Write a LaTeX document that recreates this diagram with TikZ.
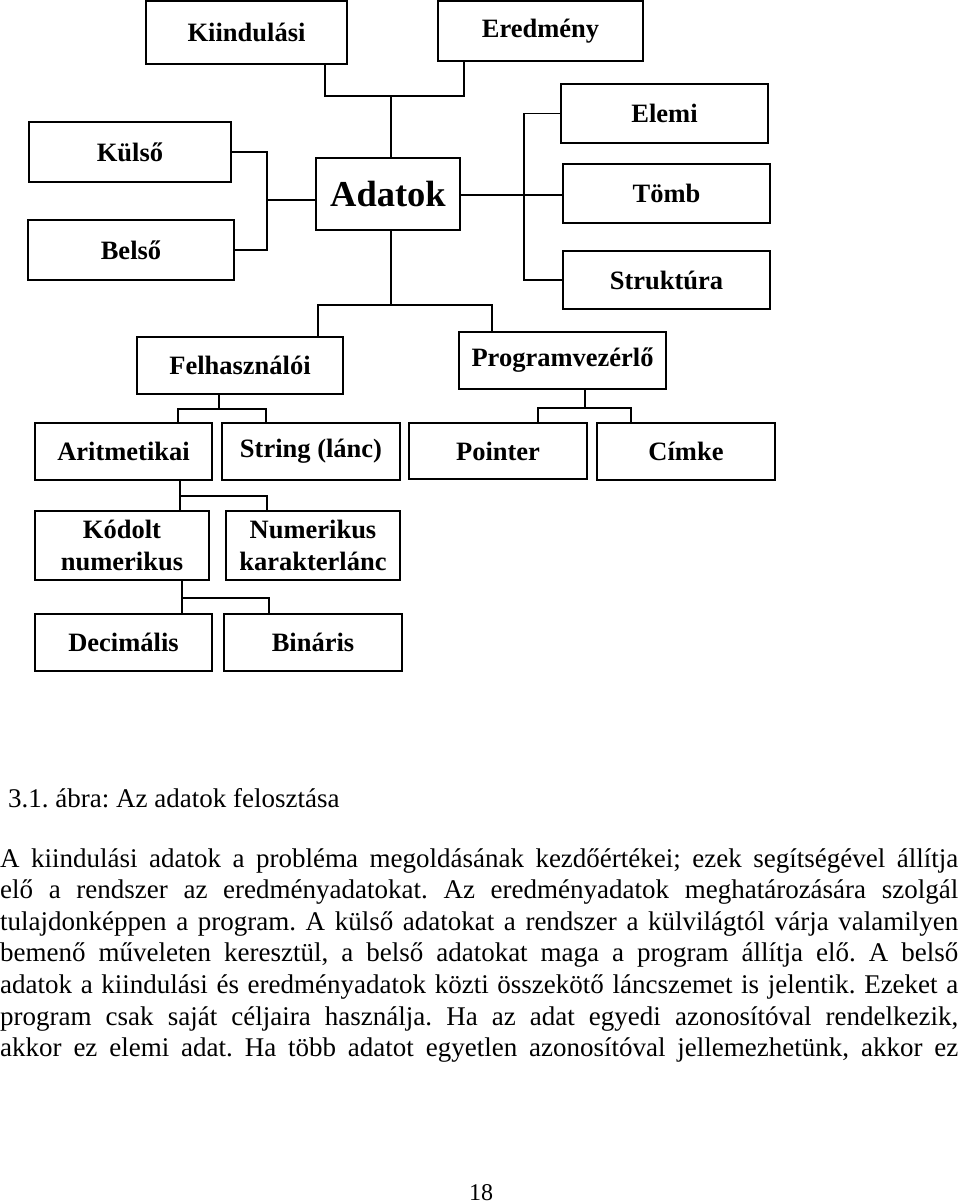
\documentclass[tikz,border=0pt]{standalone}
\usepackage{fontspec}
\setmainfont{Liberation Serif}
\begin{document}
\frenchspacing
\begin{tikzpicture}[x=1pt,y=-1pt,
  box/.style={draw, line width=1.6pt, inner sep=0pt, align=center,
    font=\fontsize{26.5}{32}\selectfont\bfseries},
  conn/.style={line width=1.3pt},
  bodyline/.style={anchor=base west, inner sep=0pt, font=\fontsize{27}{32}\selectfont}]
\useasboundingbox (0,0) rectangle (960,1204);
% boxes
\node[box, minimum width=201pt, minimum height=63pt] (kiind) at (246.5,32.5) {Kiindulási};
\node[box, minimum width=205pt, minimum height=60pt] (ered) at (540.5,31) {Eredmény};
\node[box, minimum width=202pt, minimum height=60pt] (kulso) at (130,152) {Külső};
\node[box, minimum width=206pt, minimum height=60pt] (belso) at (131,250) {Belső};
\node[box, minimum width=144pt, minimum height=72pt, font=\fontsize{36.5}{40}\selectfont\bfseries] (adatok) at (388,194) {Adatok};
\node[box, minimum width=207pt, minimum height=59pt] (elemi) at (664.5,113.5) {Elemi};
\node[box, minimum width=207pt, minimum height=59pt] (tomb) at (666.5,193.5) {Tömb};
\node[box, minimum width=207pt, minimum height=58pt] (strukt) at (666.5,280) {Struktúra};
\node[box, minimum width=206pt, minimum height=57pt] (felh) at (240,365.5) {Felhasználói};
\node[box, minimum width=207pt, minimum height=57pt] (progv) at (562.5,360.5) {Programvezérlő};
\node[box, minimum width=177pt, minimum height=57pt] (arit) at (123.5,451.5) {Aritmetikai};
\node[box, minimum width=178pt, minimum height=57pt] (string) at (311,451.5) {String (lánc)};
\node[box, minimum width=178pt, minimum height=56pt] (pointer) at (498,451) {Pointer};
\node[box, minimum width=178pt, minimum height=57pt] (cimke) at (686,451.5) {Címke};
\node[box, minimum width=174pt, minimum height=69pt] (kodolt) at (122,545.5) {Kódolt\\numerikus};
\node[box, minimum width=174pt, minimum height=69pt] (numkar) at (313,545.5) {Numerikus\\karakterlánc};
\node[box, minimum width=177pt, minimum height=57pt] (decim) at (123.5,642.5) {Decimális};
\node[box, minimum width=178pt, minimum height=57pt] (binar) at (313,642.5) {Bináris};
% junction coordinates
\coordinate (kb) at (325,96);
\coordinate (eb) at (464,96);
\coordinate (ab) at (391,96);
\coordinate (lb) at (267,200);
\coordinate (rb) at (524,195);
\coordinate (db) at (391,305);
\coordinate (fl) at (318,305);
\coordinate (pr) at (492,305);
\coordinate (fb) at (219,409);
\coordinate (fa) at (178,409);
\coordinate (fs) at (266,409);
\coordinate (pb) at (585,408);
\coordinate (pp) at (538,408);
\coordinate (pc) at (631,408);
\coordinate (ak) at (180,496);
\coordinate (an) at (267,496);
\coordinate (kd) at (182,598);
\coordinate (kn) at (269,598);
% connectors
\draw[conn] (kiind.south -| kb) -- (kb) -- (eb) -- (ered.south -| eb);
\draw[conn] (ab) -- (adatok.north -| ab);
\draw[conn] (kulso.east) -| (belso.east -| lb) -- (belso.east);
\draw[conn] (lb) -- (adatok.west |- lb);
\draw[conn] (adatok.east |- rb) -- (tomb.west |- rb);
\draw[conn] (elemi.west) -| (rb) |- (strukt.west);
\draw[conn] (adatok.south -| db) -- (db);
\draw[conn] (felh.north -| fl) -- (fl) -- (pr) -- (progv.north -| pr);
\draw[conn] (felh.south -| fb) -- (fb);
\draw[conn] (arit.north -| fa) -- (fa) -- (fs) -- (string.north -| fs);
\draw[conn] (progv.south -| pb) -- (pb);
\draw[conn] (pointer.north -| pp) -- (pp) -- (pc) -- (cimke.north -| pc);
\draw[conn] (arit.south -| ak) -- (kodolt.north -| ak);
\draw[conn] (ak) -- (an) -- (numkar.north -| an);
\draw[conn] (kodolt.south -| kd) -- (decim.north -| kd);
\draw[conn] (kd) -- (kn) -- (binar.north -| kn);
% caption and body text
\node[bodyline] (cap) at (8,807) {3.1. ábra: Az adatok felosztása};
\node[bodyline] (l1) at (0,867) {\makebox[958pt][s]{A kiindulási adatok a probléma megoldásának kezdőértékei; ezek segítségével állítja}};
\node[bodyline] (l2) at (0,898.6) {\makebox[958pt][s]{elő a rendszer az eredményadatokat. Az eredményadatok meghatározására szolgál}};
\node[bodyline] (l3) at (0,930.2) {\makebox[958pt][s]{tulajdonképpen a program. A külső adatokat a rendszer a külvilágtól várja valamilyen}};
\node[bodyline] (l4) at (0,961.8) {\makebox[958pt][s]{bemenő műveleten keresztül, a belső adatokat maga a program állítja elő. A belső}};
\node[bodyline] (l5) at (0,993.4) {\makebox[958pt][s]{adatok a kiindulási és eredményadatok közti összekötő láncszemet is jelentik. Ezeket a}};
\node[bodyline] (l6) at (0,1025) {\makebox[958pt][s]{program csak saját céljaira használja. Ha az adat egyedi azonosítóval rendelkezik,}};
\node[bodyline] (l7) at (0,1056.6) {\makebox[958pt][s]{akkor ez elemi adat. Ha több adatot egyetlen azonosítóval jellemezhetünk, akkor ez}};
\node[anchor=base, inner sep=0pt, font=\fontsize{24}{28}\selectfont] (pnum) at (481,1200) {18};
\end{tikzpicture}
\end{document}
